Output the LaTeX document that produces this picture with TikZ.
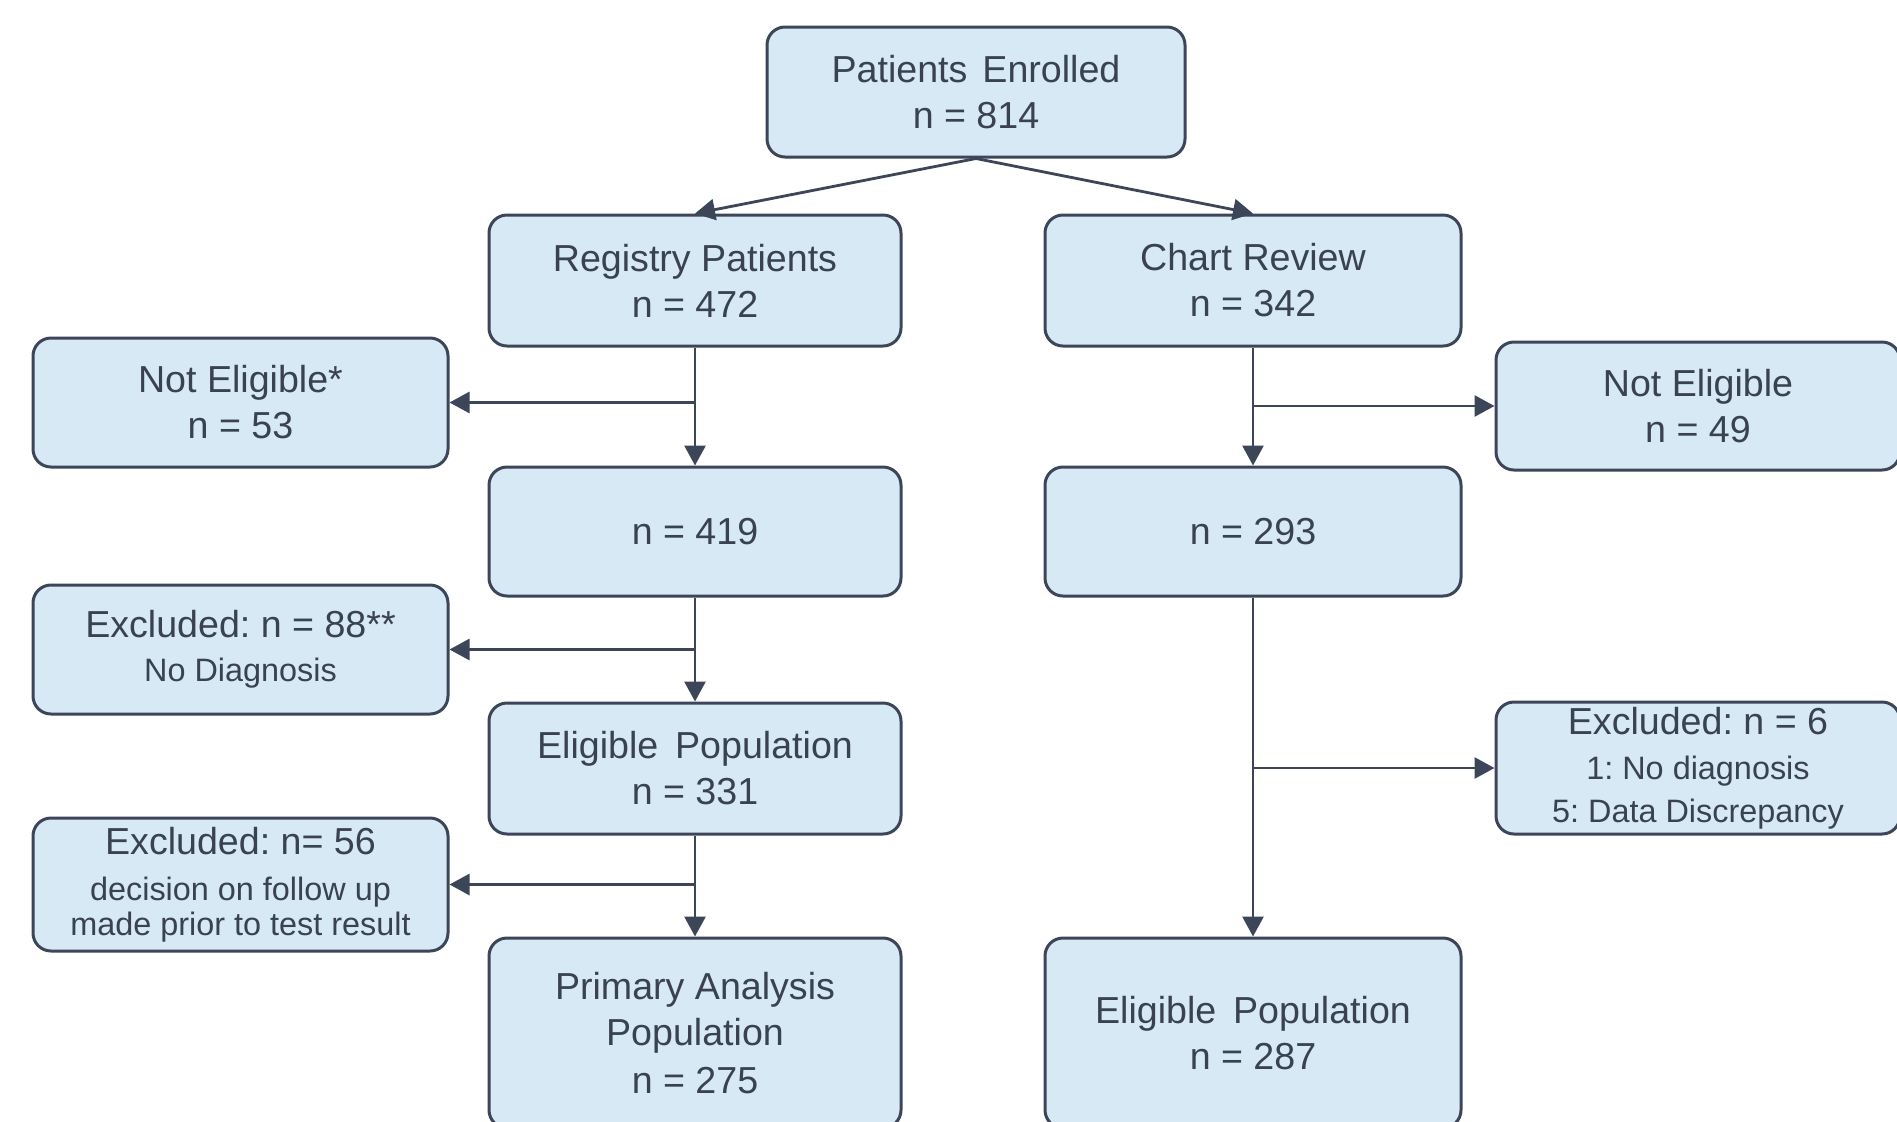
\documentclass[tikz,border=0pt]{standalone}
\usepackage{fontspec}
\setmainfont{Liberation Sans}
\usetikzlibrary{arrows.meta}
\definecolor{boxfill}{HTML}{D6E9F5}
\definecolor{boxline}{HTML}{3D4558}
\definecolor{txt}{HTML}{3A4252}
\frenchspacing
\begin{document}
\begin{tikzpicture}[x=0.5pt,y=-0.5pt,
  box/.style={draw=boxline, fill=boxfill, line width=1.5pt, rounded corners=9pt,
    inner sep=0pt, align=center, text=txt, font=\fontsize{18.8}{23}\selectfont},
  sz/.style 2 args={minimum width=#1*0.5pt, minimum height=#2*0.5pt},
  arr/.style={draw=boxline, line width=1.4pt, -{Triangle[length=10pt,width=10.5pt]}}]
\clip (0,0) rectangle (1897,1121);
\useasboundingbox (0,0) rectangle (1897,1121);
\fill[white] (0,0) rectangle (1897,1121);

\newcommand\sm{\fontsize{16.2}{23}\selectfont}

\node[box, sz={418}{130}] (enr) at (976,92) {Patients\hspace{0.4em}Enrolled\\n = 814};
\node[box, sz={412}{131}] (reg) at (695,280.5) {Registry Patients\\n = 472};
\node[box, sz={416}{131}] (chr) at (1253,280.5) {Chart Review\\n = 342};
\node[box, sz={415}{129}] (ne1) at (240.5,402.5) {Not Eligible*\\n = 53};
\node[box, sz={404}{128}] (ne2) at (1698,406) {Not Eligible\\n = 49};
\node[box, sz={412}{129}] (n419) at (695,531.5) {n = 419};
\node[box, sz={416}{129}] (n293) at (1253,531.5) {n = 293};
\node[box, sz={415}{129}] (ex88) at (240.5,649.5) {Excluded: n = 88**\\[-1pt]\sm No Diagnosis};
\node[box, sz={412}{131}] (el331) at (695,768.5) {Eligible\hspace{0.45em}Population\\n = 331};
\node[box, sz={415}{133}] (ex56) at (240.5,884.5) {Excluded: n= 56\\\sm decision on follow up\\[-5.5pt]\sm made prior to test result};
\node[box, sz={404}{132}] (ex6) at (1698,768) {Excluded: n = 6\\[-0.5pt]\sm 1: No diagnosis\\[-1.5pt]\sm 5: Data Discrepancy};
\node[box, sz={412}{190}] (prim) at (695,1033) {Primary Analysis\\Population\\[1pt]n = 275};
\node[box, sz={416}{190}] (el287) at (1253,1033) {Eligible\hspace{0.45em}Population\\n = 287};

\draw[arr] (enr.south) -- (reg.north);
\draw[arr] (enr.south) -- (chr.north);

\draw[arr] (reg.south) -- (n419.north);
\coordinate (b1) at (reg.south |- ne1.east);
\draw[arr] (b1) -- (ne1.east);

\draw[arr] (chr.south) -- (n293.north);
\coordinate (b2) at (chr.south |- ne2.west);
\draw[arr] (b2) -- (ne2.west);

\draw[arr] (n419.south) -- (el331.north);
\coordinate (b3) at (n419.south |- ex88.east);
\draw[arr] (b3) -- (ex88.east);

\draw[arr] (el331.south) -- (prim.north);
\coordinate (b4) at (el331.south |- ex56.east);
\draw[arr] (b4) -- (ex56.east);

\draw[arr] (n293.south) -- (el287.north);
\coordinate (b5) at (n293.south |- ex6.west);
\draw[arr] (b5) -- (ex6.west);
\end{tikzpicture}
\end{document}
